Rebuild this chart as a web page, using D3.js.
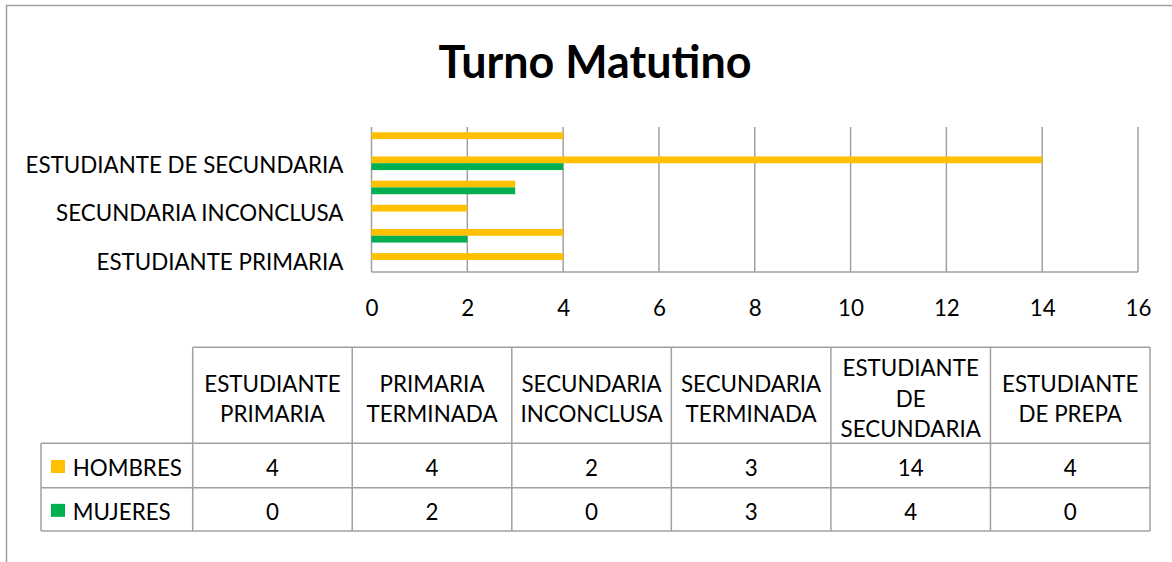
<!DOCTYPE html>
<html>
<head>
<meta charset="utf-8">
<script src="https://cdn.jsdelivr.net/npm/d3@7"></script>
<style>
  html, body { margin: 0; padding: 0; background: #fff; }
  svg { display: block; }
  text { font-family: Lato, "Open Sans", sans-serif; fill: #000; }
</style>
</head>
<body>
<svg id="chart" width="1172" height="562"></svg>
<script>
// ---- data ----
const categories = ["ESTUDIANTE PRIMARIA", "PRIMARIA TERMINADA", "SECUNDARIA INCONCLUSA",
                    "SECUNDARIA TERMINADA", "ESTUDIANTE DE SECUNDARIA", "ESTUDIANTE DE PREPA"];
const headerLines = [["ESTUDIANTE", "PRIMARIA"], ["PRIMARIA", "TERMINADA"], ["SECUNDARIA", "INCONCLUSA"],
                     ["SECUNDARIA", "TERMINADA"], ["ESTUDIANTE", "DE", "SECUNDARIA"], ["ESTUDIANTE", "DE PREPA"]];
const seriesNames = ["HOMBRES", "MUJERES"];
const hombres = [4, 4, 2, 3, 14, 4];
const mujeres = [0, 2, 0, 3, 4, 0];
const xTicks = [0, 2, 4, 6, 8, 10, 12, 14, 16];
const yLabelCats = ["ESTUDIANTE PRIMARIA", "SECUNDARIA INCONCLUSA", "ESTUDIANTE DE SECUNDARIA"];
const titleText = "Turno Matutino";

const seriesValues = [hombres, mujeres];
const colors = ["#FFC000", "#00B050"];
const gridColor = "#A0A0A0";

const svg = d3.select("#chart");

// font size fitting helper
function fit(text, weight, target) {
  const t = svg.append("text").attr("font-size", 100).attr("font-weight", weight).text(text);
  const w = t.node().getComputedTextLength();
  t.remove();
  return 100 * target / w;
}
const bodySize = fit("ESTUDIANTE DE SECUNDARIA", "normal", 318);
const titleSize = fit(titleText, "bold", 313);
const capK = 0.358; // half cap-height ratio for baseline from visual center

// outer border (top & left visible)
svg.append("path")
  .attr("d", "M6.5,562 L6.5,5.5 L1172,5.5")
  .attr("fill", "none").attr("stroke", gridColor).attr("stroke-width", 1.5);

// title
svg.append("text")
  .attr("x", 595).attr("y", 77.7)
  .attr("text-anchor", "middle")
  .attr("font-weight", "bold")
  .attr("font-size", titleSize)
  .text(titleText);

// plot
const x = d3.scaleLinear().domain([0, 16]).range([371.5, 1138]);
const y = d3.scaleBand().domain(categories.slice().reverse()).range([127, 272])
  .paddingInner(0.437).paddingOuter(0.2185);
const ySub = d3.scaleBand().domain(seriesNames).range([0, y.bandwidth()]);

// gridlines
svg.append("g").selectAll("line").data(xTicks).join("line")
  .attr("x1", d => x(d)).attr("x2", d => x(d))
  .attr("y1", 127).attr("y2", 272)
  .attr("stroke", gridColor).attr("stroke-width", 1.5);
// bottom axis line
svg.append("line").attr("x1", x(0)).attr("x2", x(16)).attr("y1", 272).attr("y2", 272)
  .attr("stroke", gridColor).attr("stroke-width", 1.5);

// bars
seriesNames.forEach((s, si) => {
  svg.append("g").selectAll("rect").data(categories).join("rect")
    .attr("x", x(0))
    .attr("y", c => y(c) + ySub(s))
    .attr("width", (c, i) => x(seriesValues[si][i]) - x(0))
    .attr("height", ySub.bandwidth())
    .attr("fill", colors[si]);
});

// x axis tick labels via d3 axis
const xAxis = d3.axisBottom(x).tickValues(xTicks).tickSize(0).tickPadding(0);
const gx = svg.append("g").attr("transform", "translate(0,0)").call(xAxis);
gx.select(".domain").remove();
gx.selectAll("text")
  .attr("font-size", bodySize)
  .attr("font-family", "Lato, 'Open Sans', sans-serif")
  .attr("fill", "#000")
  .attr("dy", null)
  .attr("y", 308.3 + capK * bodySize);

// y axis labels
const yAxis = d3.axisLeft(y).tickValues(yLabelCats).tickSize(0).tickPadding(0);
const gy = svg.append("g").attr("transform", "translate(343.5,0)").call(yAxis);
gy.select(".domain").remove();
gy.selectAll("text")
  .attr("font-size", bodySize)
  .attr("font-family", "Lato, 'Open Sans', sans-serif")
  .attr("fill", "#000")
  .attr("x", 0)
  .attr("dy", null)
  .attr("y", 1.7 + capK * bodySize);

// data table
const colX = d3.scaleBand().domain(categories).range([192.7, 1150]);
const tableTop = 347.3, headerBottom = 443.3, row1Bottom = 487.7, row2Bottom = 531;
const legendLeft = 41;
const rowTops = [headerBottom, row1Bottom];
const rowBottoms = [row1Bottom, row2Bottom];
const tb = svg.append("g").attr("fill", "none").attr("stroke", gridColor).attr("stroke-width", 1.5);
// horizontal lines
tb.append("line").attr("x1", colX.range()[0]).attr("x2", colX.range()[1]).attr("y1", tableTop).attr("y2", tableTop);
[headerBottom, row1Bottom, row2Bottom].forEach(yy => {
  tb.append("line").attr("x1", legendLeft).attr("x2", colX.range()[1]).attr("y1", yy).attr("y2", yy);
});
// vertical lines
tb.append("line").attr("x1", legendLeft).attr("x2", legendLeft).attr("y1", headerBottom).attr("y2", row2Bottom);
categories.forEach(c => {
  tb.append("line").attr("x1", colX(c)).attr("x2", colX(c)).attr("y1", tableTop).attr("y2", row2Bottom);
});
tb.append("line").attr("x1", colX.range()[1]).attr("x2", colX.range()[1]).attr("y1", tableTop).attr("y2", row2Bottom);

// header text
const headerCenter = 398.8, lineH = 30.5;
categories.forEach((c, i) => {
  const lines = headerLines[i];
  const n = lines.length;
  lines.forEach((ln, k) => {
    svg.append("text")
      .attr("x", colX(c) + colX.bandwidth() / 2)
      .attr("y", headerCenter + (k - (n - 1) / 2) * lineH + capK * bodySize)
      .attr("text-anchor", "middle")
      .attr("font-size", bodySize)
      .text(ln);
  });
});

// value rows
seriesNames.forEach((s, si) => {
  const cy = (rowTops[si] + rowBottoms[si]) / 2 + 2.5;
  svg.append("g").selectAll("text").data(categories).join("text")
    .attr("x", c => colX(c) + colX.bandwidth() / 2)
    .attr("y", cy + capK * bodySize)
    .attr("text-anchor", "middle")
    .attr("font-size", bodySize)
    .text((c, i) => seriesValues[si][i]);
  // legend key
  svg.append("rect")
    .attr("x", 51).attr("y", cy - 1.5 - 6.5)
    .attr("width", 14).attr("height", 13)
    .attr("fill", colors[si]);
  svg.append("text")
    .attr("x", 72.7)
    .attr("y", cy + capK * bodySize)
    .attr("font-size", bodySize)
    .text(s);
});
</script>
</body>
</html>
